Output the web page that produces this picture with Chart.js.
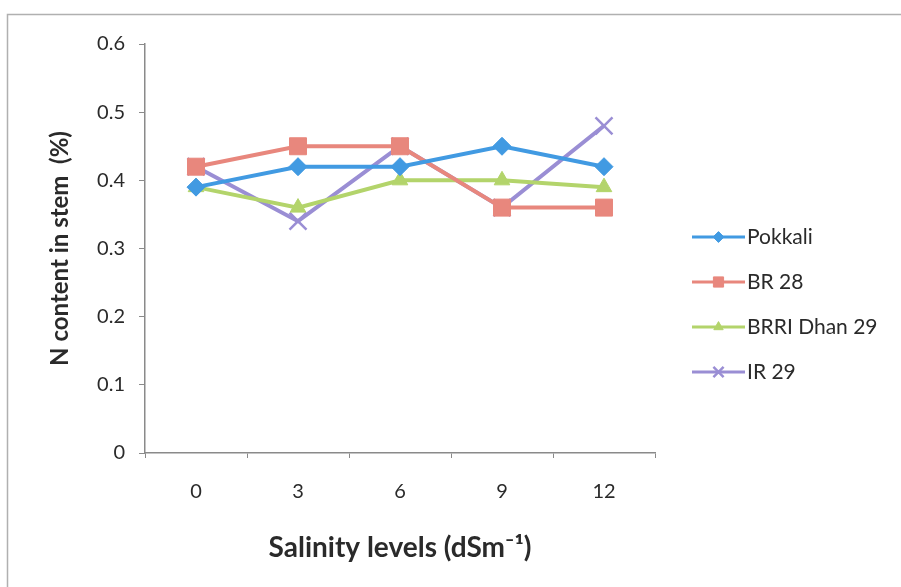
<!DOCTYPE html>
<html>
<head>
<meta charset="utf-8">
<title>N content in stem</title>
<script src="https://cdn.jsdelivr.net/npm/chart.js@4/dist/chart.umd.min.js"></script>
<style>
  html, body { margin: 0; padding: 0; background: #fff; }
  #wrap { width: 901px; height: 587px; position: relative; }
</style>
</head>
<body>
<div id="wrap"><canvas id="chart" width="901" height="587"></canvas></div>
<script>
// salinity levels (dS/m)
const salinityLevels = ['0', '3', '6', '9', '12'];

// N content in stem (%) per variety
const pokkali = [0.39, 0.42, 0.42, 0.45, 0.42];
const br28 = [0.42, 0.45, 0.45, 0.36, 0.36];
const brriDhan29 = [0.39, 0.36, 0.40, 0.40, 0.39];
const ir29 = [0.42, 0.34, 0.45, 0.36, 0.48];

const yTicks = [0, 0.1, 0.2, 0.3, 0.4, 0.5, 0.6];

const FONT = 'Lato, "DejaVu Sans", sans-serif';
const AXIS_GREY = '#8a8a8a';
const TEXT = '#2a2a2a';

function series(label, data, color, pointStyle, radius) {
    return {
        label: label,
        data: data,
        borderColor: color,
        backgroundColor: color,
        borderWidth: 4,
        pointStyle: pointStyle,
        pointRadius: radius,
        pointBorderWidth: pointStyle === 'crossRot' ? 2.5 : 1,
        pointBackgroundColor: color,
        pointBorderColor: color,
        tension: 0
    };
}

// legend on the right: a short line with the marker in the middle
const sideLegend = {
    id: 'sideLegend',
    afterDraw(chart) {
        const ctx = chart.ctx;
        const x0 = 692, x1 = 745, rowTop = 237, rowGap = 45;
        chart.data.datasets.forEach((ds, i) => {
            const y = rowTop + i * rowGap;
            ctx.save();
            ctx.strokeStyle = ds.borderColor;
            ctx.lineWidth = 3;
            ctx.beginPath();
            ctx.moveTo(x0, y);
            ctx.lineTo(x1, y);
            ctx.stroke();
            ctx.fillStyle = ds.borderColor;
            ctx.lineWidth = ds.pointBorderWidth;
            Chart.helpers.drawPoint(ctx, {
                pointStyle: ds.pointStyle,
                radius: ds.pointRadius * 0.6,
                borderWidth: ds.pointBorderWidth,
                rotation: 0
            }, (x0 + x1) / 2, y);
            ctx.fillStyle = TEXT;
            ctx.font = '21px ' + FONT;
            ctx.textBaseline = 'middle';
            ctx.textAlign = 'left';
            ctx.fillText(ds.label, x1 + 2, y);
            ctx.restore();
        });
    }
};

// thin frame round the whole chart
const frame = {
    id: 'frame',
    beforeDraw(chart) {
        const ctx = chart.ctx;
        ctx.save();
        ctx.fillStyle = '#fff';
        ctx.fillRect(0, 0, chart.width, chart.height);
        ctx.strokeStyle = '#b0b0b0';
        ctx.lineWidth = 1.5;
        ctx.strokeRect(7.5, 14.5, 900, 590);
        ctx.restore();
    }
};

new Chart(document.getElementById('chart'), {
    type: 'line',
    data: {
        labels: salinityLevels,
        datasets: [
            series('Pokkali', pokkali, '#419ae2', 'rectRot', 9),
            series('BR 28', br28, '#e8877d', 'rect', 12),
            series('BRRI Dhan 29', brriDhan29, '#b3d46b', 'triangle', 9),
            series('IR 29', ir29, '#9a8ed4', 'crossRot', 12)
        ]
    },
    options: {
        responsive: false,
        animation: false,
        layout: { padding: { left: 0, right: 246, top: 44, bottom: 0 } },
        plugins: {
            legend: { display: false },
            tooltip: { enabled: false }
        },
        scales: {
            x: {
                offset: true,
                grid: {
                    offset: true,
                    drawOnChartArea: false,
                    drawTicks: true,
                    tickLength: 5,
                    color: AXIS_GREY
                },
                border: { color: AXIS_GREY, width: 1.5 },
                ticks: {
                    color: TEXT,
                    padding: 22,
                    font: { family: FONT, size: 20 }
                },
                title: {
                    display: true,
                    text: 'Salinity levels (dSm\u207B\u00B9)',
                    color: TEXT,
                    font: { family: FONT, size: 28, weight: 'bold' },
                    padding: { top: 0, bottom: 22 }
                },
                afterFit(scale) { scale.height = 134; }
            },
            y: {
                min: 0,
                max: 0.6,
                afterBuildTicks(scale) {
                    scale.ticks = yTicks.map(v => ({ value: v }));
                },
                grid: {
                    drawOnChartArea: false,
                    drawTicks: true,
                    tickLength: 6,
                    color: AXIS_GREY
                },
                border: { color: AXIS_GREY, width: 1.5 },
                ticks: {
                    color: TEXT,
                    padding: 14,
                    font: { family: FONT, size: 20 },
                    callback: v => v === 0 ? '0' : v.toFixed(1)
                },
                title: {
                    display: true,
                    text: 'N content in stem  (%)',
                    color: TEXT,
                    font: { family: FONT, size: 24, weight: 'bold' },
                    padding: { top: 46, bottom: 0 }
                },
                afterFit(scale) { scale.width = 145; }
            }
        }
    },
    plugins: [frame, sideLegend]
});
</script>
</body>
</html>
